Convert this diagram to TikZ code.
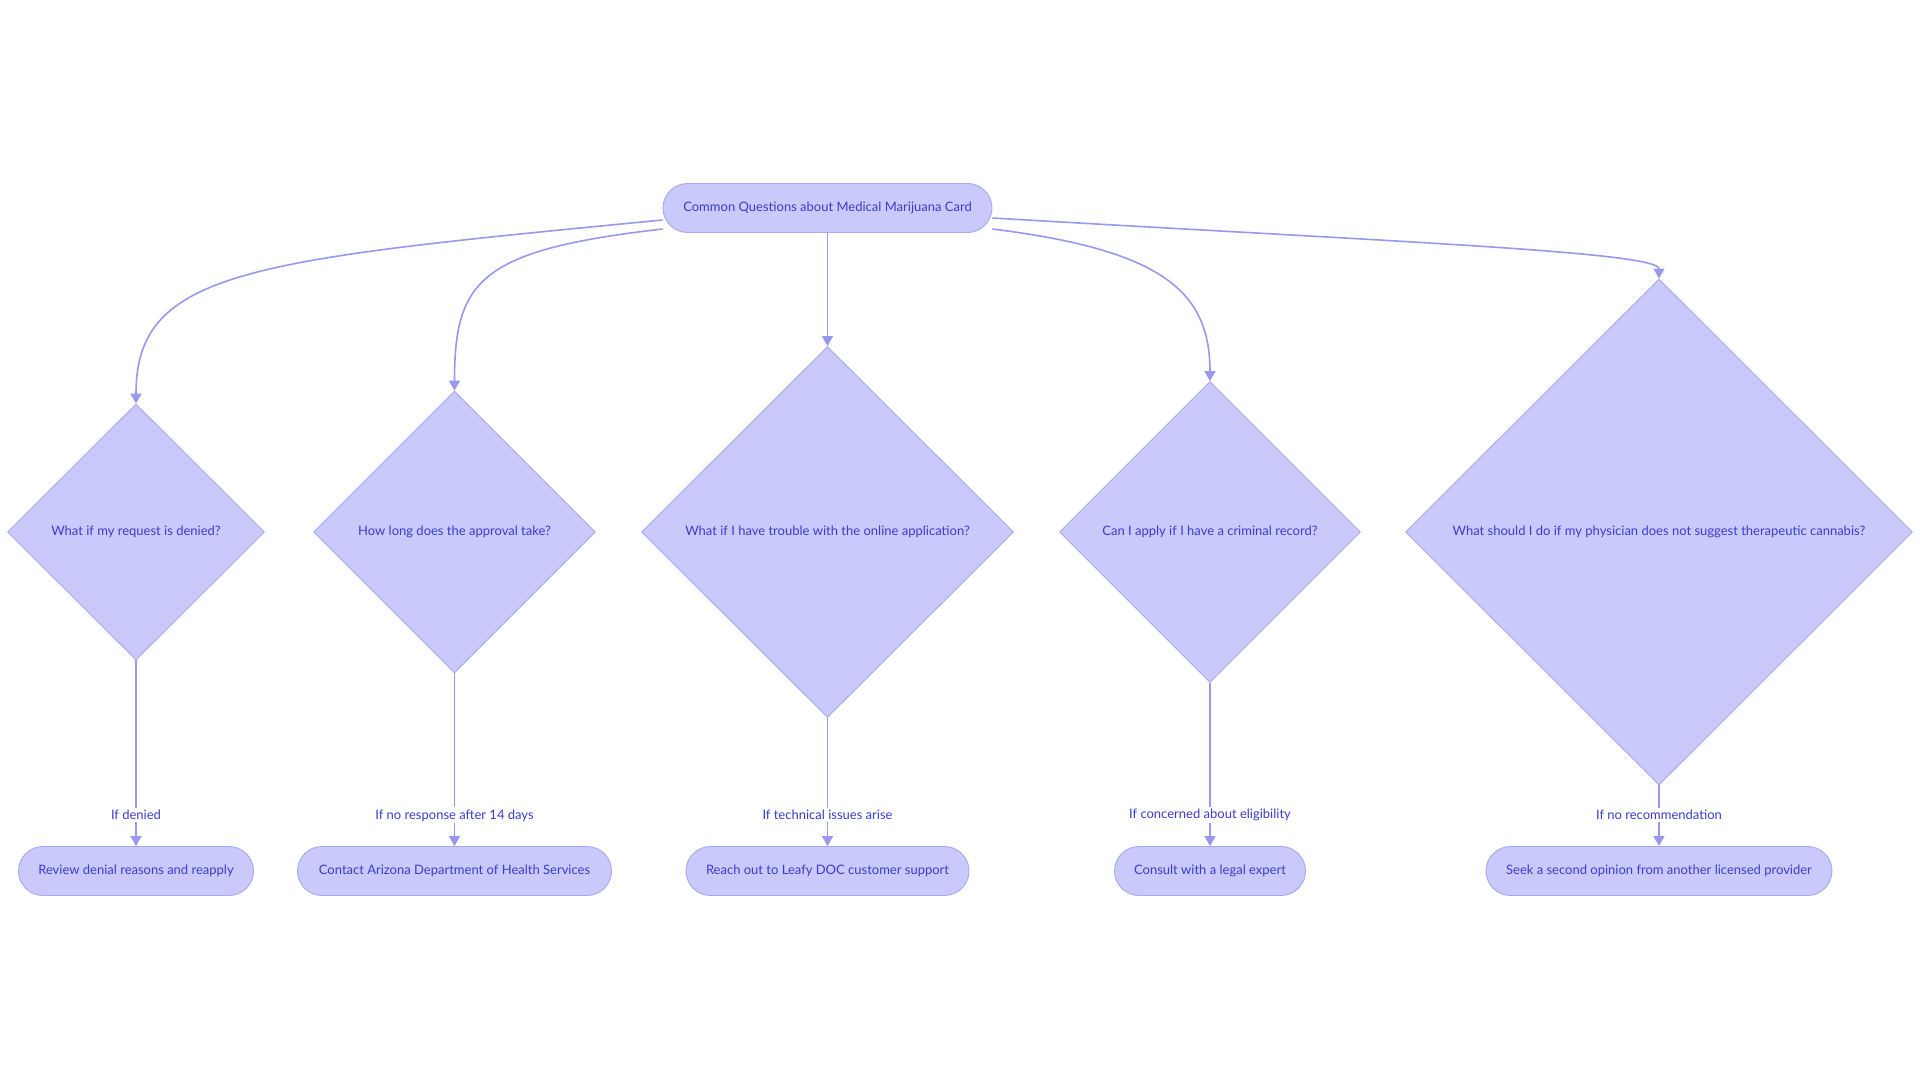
\documentclass[tikz,border=0pt]{standalone}
\usepackage{fontspec}
\setmainfont{Lato}
\usetikzlibrary{shapes.geometric,arrows.meta,calc}
\definecolor{nodefill}{RGB}{201,201,252}
\definecolor{nodeline}{RGB}{168,168,240}
\definecolor{edgecol}{RGB}{152,152,238}
\definecolor{txtcol}{RGB}{60,60,205}
\tikzset{
  every node/.style={font=\fontsize{13}{15}\selectfont, text=txtcol},
  pill/.style={draw=nodeline, fill=nodefill, line width=0.9pt, rounded corners=24.5pt,
    minimum height=49pt, inner sep=0pt, align=center},
  quest/.style={diamond, aspect=1, draw=nodeline, fill=nodefill, line width=0.9pt,
    inner sep=0pt, align=center},
  edge/.style={draw=edgecol, line width=1.6pt, -{Triangle[length=10pt,width=11pt]}},
  elabel/.style={fill=white, inner sep=2pt}
}
\begin{document}
\begin{tikzpicture}[x=1pt,y=-1pt]
\useasboundingbox (0,0) rectangle (1920,1083);
\fill[white] (0,0) rectangle (1920,1083);

% top node
\node[pill, minimum width=329pt] (top) at (827.5,208) {Common Questions about Medical Marijuana Card};

% diamonds
\node[quest, minimum width=257pt, minimum height=256pt] (d1) at (136,532) {What if my request is denied?};
\node[quest, minimum width=282pt, minimum height=282pt] (d2) at (454.5,532) {How long does the approval take?};
\node[quest, minimum width=372pt, minimum height=371pt] (d3) at (827.5,532) {What if I have trouble with the online application?};
\node[quest, minimum width=301pt, minimum height=301pt] (d4) at (1210,532) {Can I apply if I have a criminal record?};
\node[quest, minimum width=507pt, minimum height=506pt] (d5) at (1659,532) {What should I do if my physician does not suggest therapeutic cannabis?};

% bottom nodes
\node[pill, minimum width=235pt] (b1) at (136,871) {Review denial reasons and reapply};
\node[pill, minimum width=314pt] (b2) at (454.5,871) {Contact Arizona Department of Health Services};
\node[pill, minimum width=283pt] (b3) at (827.5,871) {Reach out to Leafy DOC customer support};
\node[pill, minimum width=191pt] (b4) at (1210,871) {Consult with a legal expert};
\node[pill, minimum width=346pt] (b5) at (1659,871) {Seek a second opinion from another licensed provider};

% top edges
\draw[edge] ($(top.west)+(0,12)$) .. controls (250,260) and (136,270) .. (d1.north);
\draw[edge] ($(top.west)+(0,21)$) .. controls (480,250) and (454.5,280) .. (d2.north);
\draw[edge] (top.south) -- (d3.north);
\draw[edge] ($(top.east)+(0,21)$) .. controls (1160,250) and (1210,290) .. (d4.north);
\draw[edge] ($(top.east)+(0,10)$) .. controls (1400,242) and (1659,252) .. (d5.north);

% bottom edges
\draw[edge] (d1.south) -- node[elabel, pos=0.833] {If denied} (b1.north);
\draw[edge] (d2.south) -- node[elabel, pos=0.822] {If no response after 14 days} (b2.north);
\draw[edge] (d3.south) -- node[elabel, pos=0.758] {If technical issues arise} (b3.north);
\draw[edge] (d4.south) -- node[elabel, pos=0.811] {If concerned about eligibility} (b4.north);
\draw[edge] (d5.south) -- node[elabel, pos=0.49] {If no recommendation} (b5.north);
\end{tikzpicture}
\end{document}
